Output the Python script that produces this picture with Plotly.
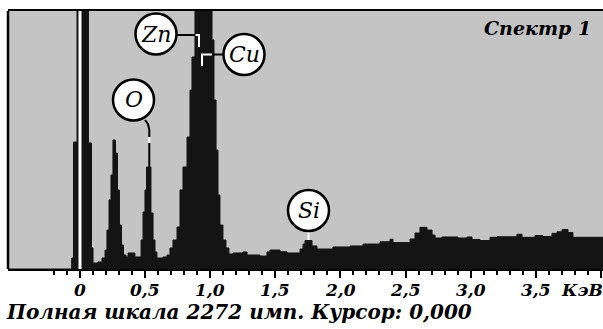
import plotly.graph_objects as go

# ---------------- data ----------------
energy_kev = [-0.553, -0.064, -0.050, -0.023, 0.065, 0.088, 0.100, 0.138, 0.169, 0.192,
              0.207, 0.223, 0.238, 0.253, 0.273, 0.288, 0.303, 0.319, 0.334, 0.353,
              0.369, 0.422, 0.469, 0.484, 0.499, 0.511, 0.545, 0.561, 0.576, 0.591,
              0.637, 0.668, 0.691, 0.714, 0.745, 0.768, 0.791, 0.822, 0.845, 0.860,
              0.883, 1.014, 1.029, 1.045, 1.060, 1.075, 1.098, 1.121, 1.144, 1.175,
              1.252, 1.283, 1.382, 1.436, 1.459, 1.536, 1.590, 1.690, 1.713, 1.728,
              1.782, 1.820, 1.943, 2.074, 2.174, 2.304, 2.381, 2.404, 2.535, 2.573,
              2.611, 2.665, 2.704, 2.727, 2.780, 2.903, 2.972, 3.011, 3.072, 3.149,
              3.203, 3.356, 3.395, 3.495, 3.556, 3.625, 3.664, 3.702, 3.748, 3.786,
              4.020]
counts = [0, 97, 1118, 3000, 1110, 185, 53, 62, 97, 167,
          343, 608, 828, 1136, 1021, 696, 387, 211, 123, 106,
          141, 106, 255, 502, 696, 898, 493, 255, 150, 97,
          106, 123, 185, 255, 370, 696, 898, 1162, 1576, 1867,
          3000, 2017, 1488, 1048, 652, 387, 255, 185, 132, 141,
          150, 123, 114, 150, 167, 152, 141, 176, 220, 251,
          203, 176, 194, 203, 220, 240, 262, 233, 264, 317,
          367, 343, 299, 273, 282, 273, 282, 260, 251, 279,
          284, 306, 279, 295, 286, 314, 328, 348, 321, 279,
          279]

full_scale = 2272
cursor_kev = 0.0
tick_values = [0, 0.5, 1.0, 1.5, 2.0, 2.5, 3.0, 3.5, 4.0]
tick_labels = ["0", "0,5", "1,0", "1,5", "2,0", "2,5", "3,0", "3,5", ""]
minor_tick_values = [round(-0.2 + 0.1 * i, 1) for i in range(43)]
unit_label = "КэВ"
title_text = "Спектр 1"
footer_text = "Полная шкала 2272 имп. Курсор: 0,000"
element_labels = ["Zn", "Cu", "O", "Si"]

# ---------------- layout geometry (pixels) ----------------
W, H = 603, 329
PL, PR, PT, PB = 8, 603, 11, 269
X_MIN = (PL - 80) / 130.2
X_MAX = (PR - 80) / 130.2


def px(x):
    return (x - PL) / (PR - PL)


def py(y):
    return (PB - y) / (PB - PT)


SERIF = "DejaVu Serif, Liberation Serif, serif"
BOLD_IT = dict(family=SERIF, weight="bold", style="italic", color="black")

fig = go.Figure()
fig.add_trace(go.Scatter(
    x=energy_kev, y=counts, mode="lines", line_shape="hv",
    line=dict(color="#141414", width=1), fill="tozeroy", fillcolor="#141414",
    hoverinfo="skip", showlegend=False))

shapes = []
# cursor line
shapes.append(dict(type="line", xref="x", yref="paper", x0=cursor_kev, x1=cursor_kev,
                   y0=0, y1=1, line=dict(color="white", width=3), layer="above"))
# left frame line
shapes.append(dict(type="line", xref="paper", yref="paper", x0=0, x1=0, y0=0, y1=1,
                   line=dict(color="black", width=2.5), layer="above"))


def seg(points, color):
    d = "M " + " L ".join(f"{px(x):.5f},{py(y):.5f}" for x, y in points)
    return dict(type="path", xref="paper", yref="paper", path=d,
                line=dict(color=color, width=2), layer="above")


# connectors
shapes.append(seg([(177, 35), (195.5, 35)], "black"))
shapes.append(seg([(195.5, 35), (199, 35), (199, 47)], "white"))
shapes.append(seg([(223, 54.5), (212, 54.5)], "black"))
shapes.append(seg([(212, 54.5), (202, 54.5), (202, 66)], "white"))
shapes.append(seg([(145, 120), (148, 124), (149.3, 130), (149.3, 137)], "black"))
shapes.append(seg([(149.3, 137), (149.3, 143)], "white"))
shapes.append(seg([(149.3, 143), (149.3, 167)], "black"))
shapes.append(seg([(308.5, 231), (308.5, 240)], "white"))

label_centers = [(156, 34), (244, 54.5), (133.5, 100), (308.5, 210.5)]
R = 20.5
annotations = []
for name, (cx, cy) in zip(element_labels, label_centers):
    shapes.append(dict(type="circle", xref="paper", yref="paper",
                       x0=px(cx - R), x1=px(cx + R), y0=py(cy + R), y1=py(cy - R),
                       fillcolor="white", line=dict(color="black", width=2.5), layer="above"))
    annotations.append(dict(text=name, xref="paper", yref="paper", x=px(cx), y=py(cy),
                            xanchor="center", yanchor="middle", showarrow=False,
                            font=dict(family=SERIF, size=22, style="italic", color="black")))

# tick labels
for v, t in zip(tick_values, tick_labels):
    if t:
        annotations.append(dict(text=t, xref="x", yref="paper", x=v, y=py(289.5),
                                xanchor="center", yanchor="middle", showarrow=False,
                                font=dict(size=17, **BOLD_IT)))

annotations.append(dict(text=title_text, xref="paper", yref="paper", x=px(593), y=py(28),
                        xanchor="right", yanchor="middle", showarrow=False,
                        font=dict(size=19, **BOLD_IT)))
annotations.append(dict(text=unit_label, xref="paper", yref="paper", x=px(559), y=py(289.5),
                        xanchor="left", yanchor="middle", showarrow=False,
                        font=dict(size=17, **BOLD_IT)))
annotations.append(dict(text=footer_text, xref="paper", yref="paper", x=px(4), y=py(312),
                        xanchor="left", yanchor="middle", showarrow=False,
                        font=dict(size=20, **BOLD_IT)))

fig.update_layout(
    width=W, height=H, margin=dict(l=PL, r=W - PR, t=PT, b=H - PB),
    paper_bgcolor="white", plot_bgcolor="#c4c4c4",
    shapes=shapes, annotations=annotations, showlegend=False,
    xaxis=dict(range=[X_MIN, X_MAX], tickmode="array", tickvals=tick_values,
               showticklabels=False, ticks="outside", ticklen=7, tickwidth=2,
               tickcolor="black", showline=True, linewidth=2, linecolor="black",
               mirror=True, showgrid=False, zeroline=False,
               minor=dict(tickmode="array", tickvals=minor_tick_values, ticks="outside",
                          ticklen=4, tickwidth=1.5, tickcolor="black", showgrid=False)),
    yaxis=dict(range=[0, full_scale], showticklabels=False, ticks="", showgrid=False,
               zeroline=False, showline=False),
)

fig.write_html("out.html", config={"displayModeBar": False},
               post_script="document.body.style.margin='0';document.body.style.overflow='hidden';")
